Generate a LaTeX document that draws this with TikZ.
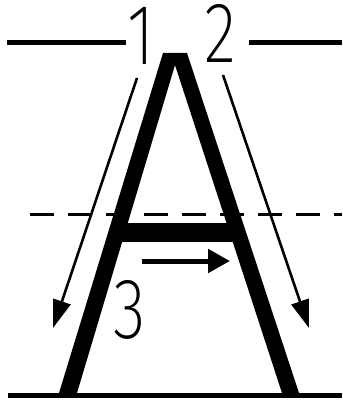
\documentclass[tikz,border=0pt]{standalone}
\usepackage{fontspec}
\usepackage{tikz}
\usetikzlibrary{arrows.meta}
\newfontfamily\numfont{Fira Sans ExtraLight}
\newcommand\narrownum[1]{\scalebox{0.78}[1]{#1}}
\tikzset{
  guide/.style    = {line width=5pt},
  midline/.style  = {line width=3pt, dash pattern=on 24pt off 14pt},
  letter/.style   = {fill=black, draw=none},
  strokearr/.style = {-{Triangle[length=28pt,width=18pt]}, line width=2.6pt},
  bararr/.style   = {-{Triangle[length=22pt,width=23pt]}, line width=5pt},
  num/.style      = {inner sep=0pt, anchor=base,
                     font=\numfont\fontsize{86}{86}\selectfont},
}

\begin{document}
\begin{tikzpicture}[x=1pt, y=-1pt]
    \useasboundingbox (0,0) rectangle (342,403);
    % guide lines
    \coordinate (topL) at (7,43);   \coordinate (topLe) at (126,43);
    \coordinate (topR) at (249,43); \coordinate (topRe) at (342,43);
    \coordinate (midL) at (30,214); \coordinate (midR) at (342,214);
    \coordinate (baseL) at (8,395); \coordinate (baseR) at (342,395);
    \draw[guide] (topL) -- (topLe);
    \draw[guide] (topR) -- (topRe);
    \draw[midline] (midL) -- (midR);
    \draw[guide] (baseL) -- (baseR);
    % the letter A
    \fill[letter] (163,53) -- (187,53) -- (299,393) -- (282,393) -- (175,65)
          -- (77,393) -- (59,393) -- cycle;
    \fill[letter] (115,223) rectangle (238,242);
    % stroke order
    \node[num] (n1) at (141,65) {\narrownum{1}};
    \node[num] (n2) at (220,63) {\narrownum{2}};
    \node[num] (n3) at (130,338) {\narrownum{3}};
    \coordinate (s1a) at (137,78);  \coordinate (s1b) at (53,328);
    \coordinate (s2a) at (223,75);  \coordinate (s2b) at (309,328);
    \coordinate (s3a) at (142,261); \coordinate (s3b) at (230,261);
    \draw[strokearr] (s1a) -- (s1b);
    \draw[strokearr] (s2a) -- (s2b);
    \draw[bararr] (s3a) -- (s3b);
\end{tikzpicture}
\end{document}
